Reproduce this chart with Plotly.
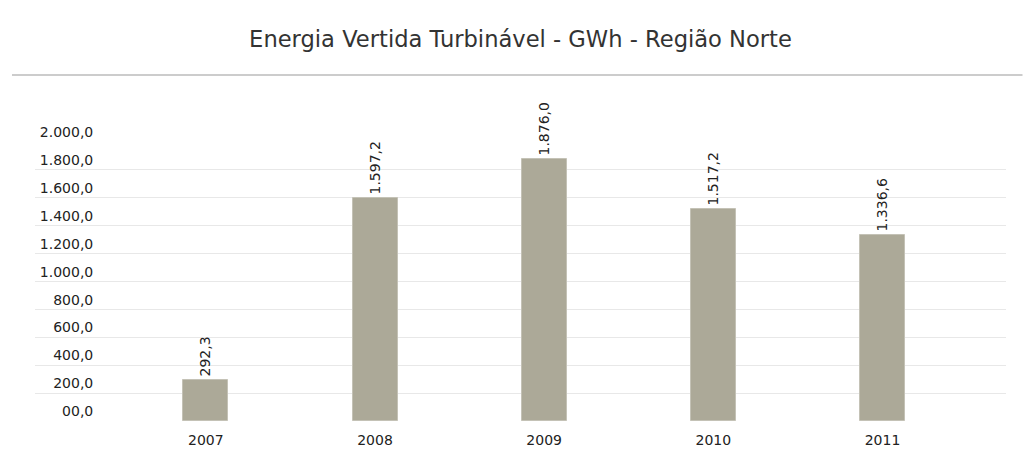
import plotly.graph_objects as go

years = ["2007", "2008", "2009", "2010", "2011"]
values = [292.3, 1597.2, 1876.0, 1517.2, 1336.6]
value_labels = ["292,3", "1.597,2", "1.876,0", "1.517,2", "1.336,6"]
y_tickvals = [0, 200, 400, 600, 800, 1000, 1200, 1400, 1600, 1800, 2000]
y_ticktext = ["00,0", "200,0", "400,0", "600,0", "800,0", "1.000,0", "1.200,0",
              "1.400,0", "1.600,0", "1.800,0", "2.000,0"]
title_text = "Energia Vertida Turbinável - GWh - Região Norte"

FONT = "DejaVu Sans"

fig = go.Figure()
fig.add_trace(go.Bar(
    x=list(range(len(years))),
    y=values,
    width=0.266,
    marker=dict(color="#aca998", line=dict(color="#c4c2b6", width=1)),
    text=value_labels,
    textposition="outside",
    textangle=-90,
    constraintext="none",
    cliponaxis=False,
    textfont=dict(family=FONT, size=14, color="#222222"),
    hoverinfo="skip",
))

fig.update_layout(
    width=1035, height=460,
    margin=dict(l=35, r=29, t=142, b=39, autoexpand=False),
    paper_bgcolor="white", plot_bgcolor="white",
    showlegend=False,
    bargap=0,
    title=dict(text=title_text, x=0.5, xref="paper", xanchor="center",
               y=1 - 39 / 460, yref="container", yanchor="middle",
               font=dict(family=FONT, size=22.6, color="#333333")),
    xaxis=dict(
        tickmode="array", tickvals=list(range(len(years))), ticktext=years,
        range=[-1.01, 4.73], showgrid=False, zeroline=False, showline=False,
        ticks="", ticklabelstandoff=9,
        tickfont=dict(family=FONT, size=14, color="#222222"),
    ),
    yaxis=dict(
        tickmode="array", tickvals=y_tickvals, ticktext=y_ticktext,
        range=[0, 2000], showgrid=True, gridcolor="#e8e8e8", gridwidth=1,
        zeroline=False, showline=False, ticks="",
        anchor="free", position=0.06,
        ticklabelposition="outside top",
        tickfont=dict(family=FONT, size=14, color="#222222"),
    ),
    shapes=[dict(type="line", xref="paper", yref="paper",
                 x0=-0.0237, x1=1.017, y0=(460 - 39 - 75) / 279, y1=(460 - 39 - 75) / 279,
                 line=dict(color="#999999", width=1))],
)

fig.write_html("out.html", config={"displayModeBar": False},
               post_script="document.body.style.margin='0';")
